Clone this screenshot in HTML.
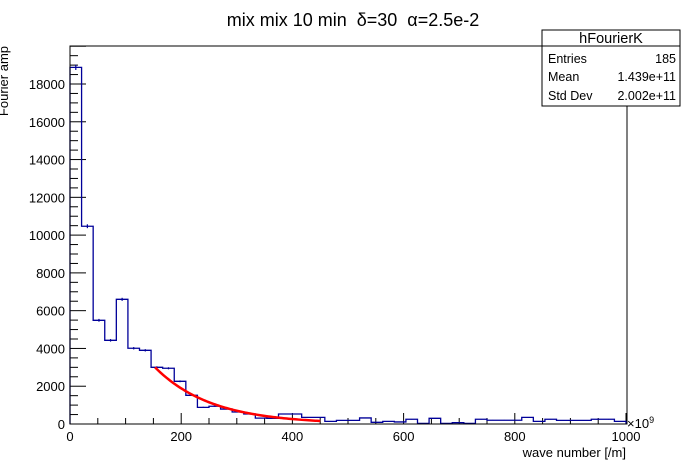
<!DOCTYPE html>
<html><head><meta charset="utf-8"><style>
body{margin:0;background:#fff}
svg{display:block;font-family:"Liberation Sans",sans-serif}
text{white-space:pre}
</style></head><body>
<svg id="c" width="696" height="472" xmlns="http://www.w3.org/2000/svg">
<rect width="696" height="472" fill="#fff"/>
<text x="353" y="26" text-anchor="middle" font-size="18" xml:space="preserve">mix mix 10 min  δ=30  α=2.5e-2</text>
<text transform="translate(8,46) rotate(-90)" text-anchor="end" font-size="13">Fourier amp</text>
<text x="626" y="457" text-anchor="end" font-size="13">wave number [/m]</text>
<text x="627" y="428" font-size="13">×10<tspan font-size="9" dy="-5">9</tspan></text>
<g id="axes"></g>
<path id="hist" fill="none" stroke="#000099" stroke-width="1.3"/>
<g id="errs"></g>
<path id="fit" fill="none" stroke="#ff0000" stroke-width="2.5"/>
<rect x="70" y="46" width="557" height="378" fill="none" stroke="#000" stroke-width="1"/>
<g>
<rect x="542" y="30" width="138" height="76" fill="#fff" stroke="#000"/>
<line x1="542" y1="46" x2="680" y2="46" stroke="#000"/>
<text x="611" y="43" text-anchor="middle" font-size="14.5">hFourierK</text>
<text x="548" y="63" font-size="12.5">Entries</text><text x="676" y="63" text-anchor="end" font-size="12.5">185</text>
<text x="548" y="81" font-size="12.5">Mean</text><text x="676" y="81" text-anchor="end" font-size="12.5">1.439e+11</text>
<text x="548" y="100" font-size="12.5">Std Dev</text><text x="676" y="100" text-anchor="end" font-size="12.5">2.002e+11</text>
</g>
</svg>
<script>
const binLow = 0, binHigh = 1000, nBins = 48;
const counts = [18880,10470,5490,4430,6600,4010,3900,3000,2950,2260,1520,880,940,790,635,530,310,300,530,530,350,350,140,190,190,320,90,140,110,250,35,300,35,70,35,250,200,200,200,350,140,250,190,190,190,250,250,140];
const yTicks = [0,2000,4000,6000,8000,10000,12000,14000,16000,18000];
const xTicks = [0,200,400,600,800,1000];
const fitA = 3000, fitB = 0.00987, fitFrom = 153, fitTo = 450;
const X0=70, X1=626, Y0=424, yScale=340/18000;
const xp = v => X0 + (v-binLow)/(binHigh-binLow)*(X1-X0);
const yp = v => Y0 - v*yScale;
const NS="http://www.w3.org/2000/svg";
const ax=document.getElementById('axes');
function ln(g,x1,y1,x2,y2,c,w){const l=document.createElementNS(NS,'line');l.setAttribute('x1',x1);l.setAttribute('y1',y1);l.setAttribute('x2',x2);l.setAttribute('y2',y2);l.setAttribute('stroke',c||'#000');l.setAttribute('stroke-width',w||1);g.appendChild(l);return l;}
for(let v=0;v<=20000;v+=500){const y=yp(v);if(y<46)break;const major=v%2000===0;const t=ln(ax,70,y,70+(major?16:8),y);

}
yTicks.forEach(v=>{const t=document.createElementNS(NS,'text');t.setAttribute('x',65);t.setAttribute('y',yp(v)+5);t.setAttribute('text-anchor','end');t.setAttribute('font-size','13');t.textContent=v;


ax.appendChild(t);});
for(let v=0;v<=1000;v+=50){const x=xp(v);const major=v%200===0;const t=ln(ax,x,424,x,424-(major?11:6));

}
xTicks.forEach(v=>{const t=document.createElementNS(NS,'text');t.setAttribute('x',xp(v));t.setAttribute('y',441);t.setAttribute('text-anchor','middle');t.setAttribute('font-size','13');t.textContent=v;


ax.appendChild(t);});
const bw=(binHigh-binLow)/nBins;
let d=`M${xp(binLow)},${yp(0)}`;
const eg=document.getElementById('errs');
counts.forEach((c,i)=>{const a=xp(binLow+i*bw),b=xp(binLow+(i+1)*bw);d+=` L${a},${yp(c)} L${b},${yp(c)}`;
const m=(a+b)/2,e=Math.sqrt(c)*1.0;const l=ln(eg,m,yp(c+e),m,yp(Math.max(0,c-e)),'#000099',1.2);

});
d+=` L${xp(binHigh)},${yp(0)}`;
document.getElementById('hist').setAttribute('d',d);
let f='';for(let k=fitFrom;k<=fitTo;k+=3){f+=(f?' L':'M')+xp(k)+','+yp(fitA*Math.exp(-fitB*(k-fitFrom)));}
document.getElementById('fit').setAttribute('d',f);
</script>
</body></html>
